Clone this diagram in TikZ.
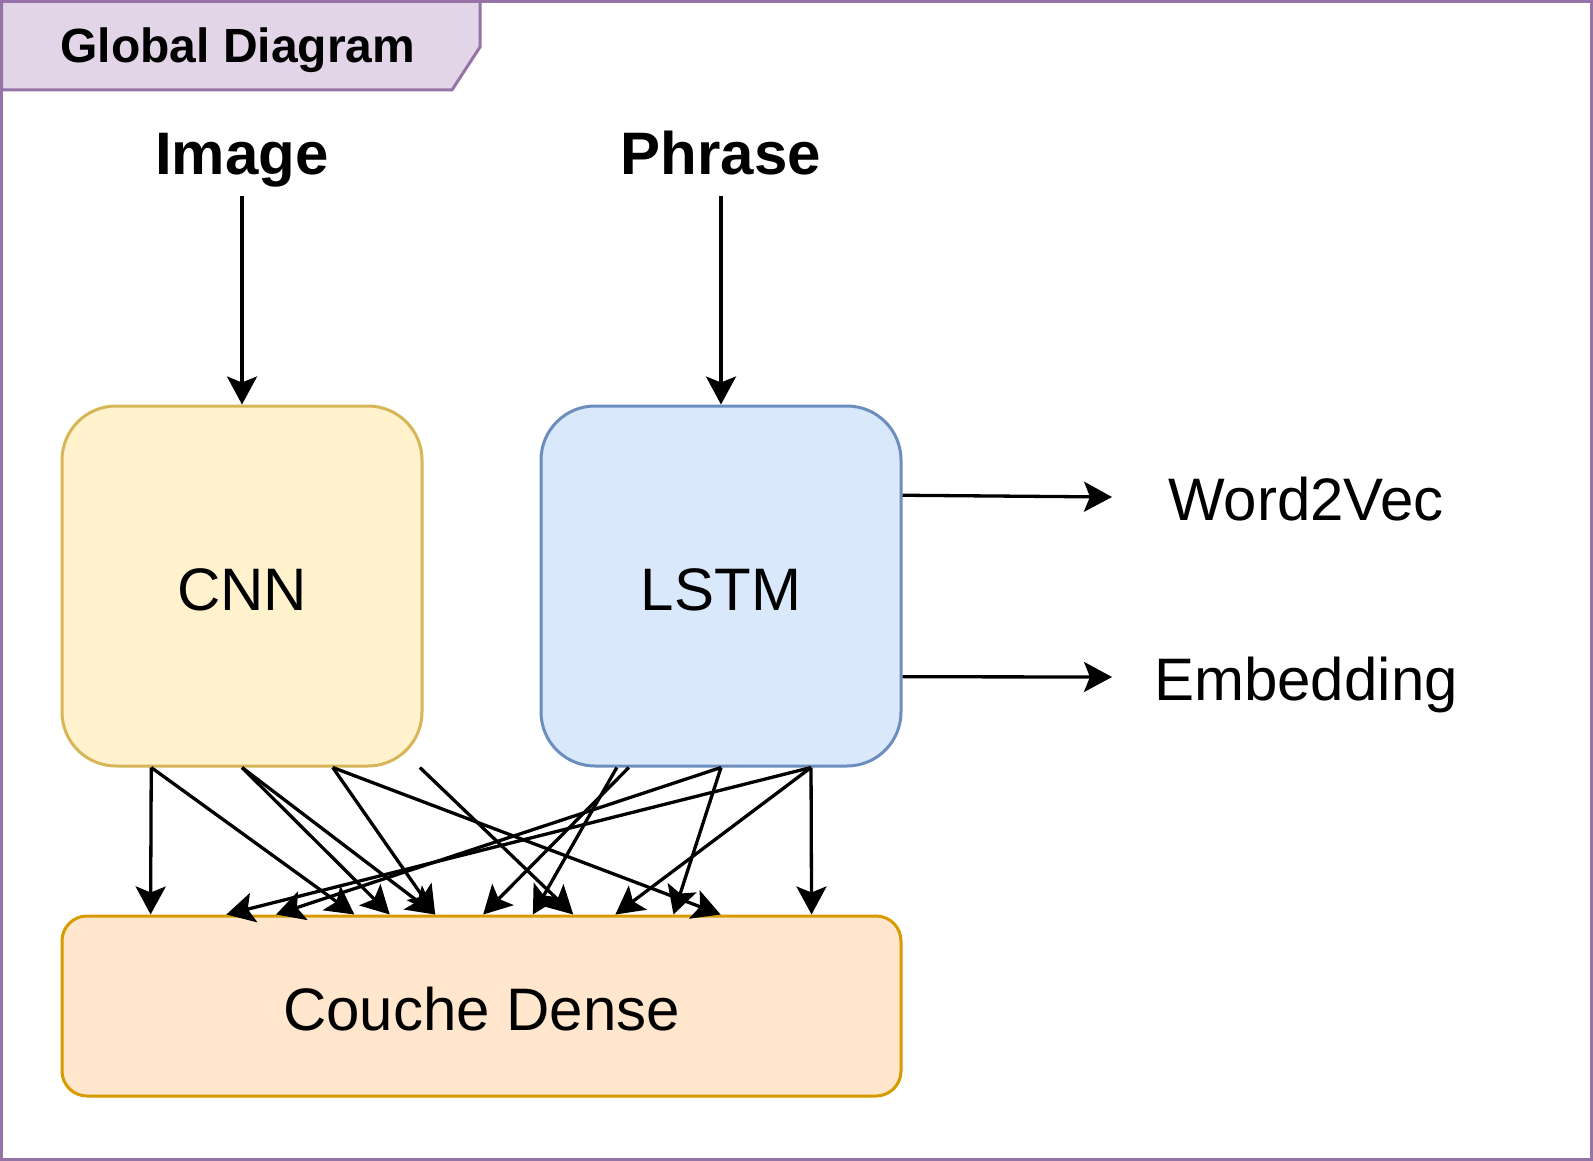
\documentclass[tikz,border=0pt]{standalone}
\usepackage{fontspec}
\setmainfont{Liberation Sans}
\usetikzlibrary{arrows.meta,calc}
\definecolor{frameS}{HTML}{9673A6}
\definecolor{frameF}{HTML}{E1D5E7}
\definecolor{cnnF}{HTML}{FFF2CC}
\definecolor{cnnS}{HTML}{D6B656}
\definecolor{lstmF}{HTML}{DAE8FC}
\definecolor{lstmS}{HTML}{6C8EBF}
\definecolor{denseF}{HTML}{FFE6CC}
\definecolor{denseS}{HTML}{D79B00}
\tikzset{arrowtip/.tip={Stealth[length=28pt,width=30pt,inset=6pt]}}
\begin{document}
\begin{tikzpicture}[x=1pt,y=-1pt,
  bigbox/.style={draw, line width=3pt, rounded corners=54pt, minimum width=360pt, minimum height=360pt, inner sep=0pt, text height=48pt, text depth=0pt, font=\fontsize{60}{72}\selectfont},
  inlabel/.style={anchor=base, inner sep=8pt, text depth=12.6pt, font=\bfseries\fontsize{60}{72}\selectfont},
  outlabel/.style={anchor=base, inner sep=8pt, font=\fontsize{60}{72}\selectfont},
  arr/.style={line width=3.3pt, -arrowtip}]
\useasboundingbox (0,0) rectangle (1593,1161);
\fill[white] (0,0) rectangle (1593,1161);
\draw[frameS, line width=3pt] (1.5,1.5) rectangle (1591.5,1159.5);
\draw[frameS, fill=frameF, line width=3pt] (1.5,1.5) -- (480,1.5) -- (480,47) -- (452,90) -- (1.5,90) -- cycle;
\node[anchor=base, inner sep=0pt, font=\bfseries\fontsize{48}{56}\selectfont] (title) at (238,63) {Global Diagram};

\node[bigbox, fill=cnnF, draw=cnnS] (cnn) at (242,586) {CNN};
\node[bigbox, fill=lstmF, draw=lstmS] (lstm) at (721,586) {LSTM};
\node[bigbox, fill=denseF, draw=denseS, rounded corners=25pt, minimum width=839pt, minimum height=180pt] (dense) at (481.5,1006) {Couche Dense};

\node[inlabel] (img) at (242,175) {Image};
\node[inlabel] (phr) at (721,175) {Phrase};
\node[outlabel] (w2v) at (1306,520) {Word2Vec};
\node[outlabel] (emb) at (1306,700) {Embedding};
\coordinate (w2vin) at (1112,497);
\coordinate (embin) at (1112,677);

\draw[arr] (img.south) -- (cnn.north);
\draw[arr] (phr.south) -- (lstm.north);
\draw[arr] ($(lstm.north east)!0.25!(lstm.south east)$) -- (w2vin);
\draw[arr] ($(lstm.north east)!0.75!(lstm.south east)$) -- (embin);

% CNN -> Dense
\draw[arr] ($(cnn.south west)!0.25!(cnn.south east)$) -- ($(dense.north west)!0.107!(dense.north east)$);
\draw[arr] ($(cnn.south west)!0.25!(cnn.south east)$) -- ($(dense.north west)!0.349!(dense.north east)$);
\draw[arr] ($(cnn.south west)!0.5!(cnn.south east)$) -- ($(dense.north west)!0.391!(dense.north east)$);
\draw[arr] ($(cnn.south west)!0.5!(cnn.south east)$) -- ($(dense.north west)!0.445!(dense.north east)$);
\draw[arr] ($(cnn.south west)!0.75!(cnn.south east)$) -- ($(dense.north west)!0.445!(dense.north east)$);
\draw[arr] ($(cnn.south west)!0.75!(cnn.south east)$) -- ($(dense.north west)!0.784!(dense.north east)$);
\draw[arr] ($(cnn.south west)!0.99!(cnn.south east)$) -- ($(dense.north west)!0.609!(dense.north east)$);
% LSTM -> Dense
\draw[arr] ($(lstm.south west)!0.213!(lstm.south east)$) -- ($(dense.north west)!0.561!(dense.north east)$);
\draw[arr] ($(lstm.south west)!0.246!(lstm.south east)$) -- ($(dense.north west)!0.502!(dense.north east)$);
\draw[arr] ($(lstm.south west)!0.5!(lstm.south east)$) -- ($(dense.north west)!0.256!(dense.north east)$);
\draw[arr] ($(lstm.south west)!0.5!(lstm.south east)$) -- ($(dense.north west)!0.728!(dense.north east)$);
\draw[arr] ($(lstm.south west)!0.748!(lstm.south east)$) -- ($(dense.north west)!0.197!(dense.north east)$);
\draw[arr] ($(lstm.south west)!0.748!(lstm.south east)$) -- ($(dense.north west)!0.659!(dense.north east)$);
\draw[arr] ($(lstm.south west)!0.748!(lstm.south east)$) -- ($(dense.north west)!0.892!(dense.north east)$);
\end{tikzpicture}
\end{document}
